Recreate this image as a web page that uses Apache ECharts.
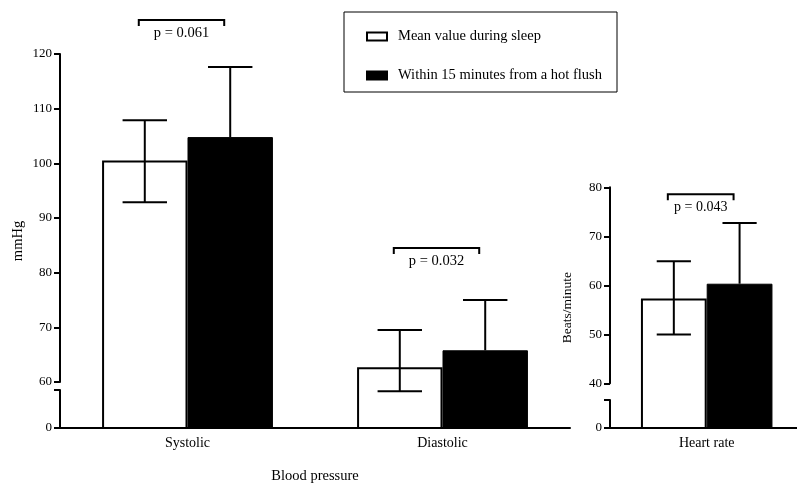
<!DOCTYPE html>
<html><head><meta charset="utf-8">
<script src="https://cdn.jsdelivr.net/npm/echarts@6/dist/echarts.min.js"></script>
<style>html,body{margin:0;padding:0;background:#fff}#c{width:797px;height:485px}</style>
</head><body><div id="c"></div>
<script>
// ---- data ----
const bpCategories = ['Systolic', 'Diastolic'];
const hrCategories = ['Heart rate'];
const seriesNames = ['Mean value during sleep', 'Within 15 minutes from a hot flush'];
const bpSleepMean = [100.5, 62.7];
const bpSleepLow  = [92.9, 58.3];
const bpSleepHigh = [107.9, 69.5];
const bpFlushMean = [104.8, 65.8];
const bpFlushHigh = [117.6, 75.0];
const hrSleepMean = [57.3];
const hrSleepLow  = [49.9];
const hrSleepHigh = [64.9];
const hrFlushMean = [60.3];
const hrFlushHigh = [72.7];
const bpTicks = [60, 70, 80, 90, 100, 110, 120];
const hrTicks = [40, 50, 60, 70, 80];
const bpPValues = ['p = 0.061', 'p = 0.032'];
const bpBracketY = [126.2, 84.5];
const hrPValues = ['p = 0.043'];
const hrBracketY = [78.6];

// ---- layout ----
const FONT = 'Liberation Serif';
const BP_GAP = 0.33, HR_GAP = 0.32;
const bpPxPerUnit = 328 / 60;   // upper segment 60..120 over 328px
const hrPxPerUnit = 196 / 40;   // upper segment 40..80 over 196px
const bpMainMin = 60 - 46 / bpPxPerUnit;
const hrMainMin = 40 - 45 / hrPxPerUnit;
const bpLowMax = 38 / bpPxPerUnit;
const hrLowMax = 28 / hrPxPerUnit;

function errRender(gap) {
  return function (params, api) {
    const cat = api.value(0), mean = api.value(1), low = api.value(2), high = api.value(3), side = api.value(4);
    const band = api.size([1, 0])[0];
    const bw = band * (1 - gap) / 2;
    const c = api.coord([cat, mean]);
    const x = c[0] + side * bw / 2;
    const yTop = api.coord([cat, high])[1];
    const yLow = api.coord([cat, low])[1];
    const cap = bw * 0.52;
    const style = { stroke: '#000', lineWidth: 2, fill: null };
    const ch = [
      { type: 'line', shape: { x1: x, y1: yTop, x2: x, y2: yLow }, style },
      { type: 'line', shape: { x1: x - cap / 2, y1: yTop, x2: x + cap / 2, y2: yTop }, style }
    ];
    if (low < mean) ch.push({ type: 'line', shape: { x1: x - cap / 2, y1: yLow, x2: x + cap / 2, y2: yLow }, style });
    return { type: 'group', children: ch };
  };
}
function bracketRender(gap, labels, fs) {
  return function (params, api) {
    const cat = api.value(0), yv = api.value(1);
    const band = api.size([1, 0])[0];
    const bw = band * (1 - gap) / 2;
    const c = api.coord([cat, yv]);
    const xL = c[0] - bw / 2 - 6, xR = c[0] + bw / 2 - 6, y = c[1];
    return { type: 'group', children: [
      { type: 'polyline', shape: { points: [[xL, y + 6], [xL, y], [xR, y], [xR, y + 6]] },
        style: { stroke: '#000', lineWidth: 2, fill: null } },
      { type: 'text', x: (xL + xR) / 2, y: y + 13,
        style: { text: labels[params.dataIndex], fontFamily: FONT, fontSize: fs, fill: '#000',
                 align: 'center', verticalAlign: 'middle' } }
    ]};
  };
}

const axLine = { show: true, lineStyle: { color: '#000', width: 2 } };
const hidden = { show: false };
const g = (o) => Object.assign({ outerBoundsMode: 'none', containLabel: false }, o);

const option = {
  animation: false,
  backgroundColor: '#fff',
  textStyle: { fontFamily: FONT, color: '#000' },
  legend: {
    data: seriesNames, orient: 'vertical', left: 344, top: 12,
    padding: [17, 15, 9, 22], borderColor: '#000', borderWidth: 1,
    itemWidth: 20, itemHeight: 8, itemGap: 24, icon: 'rect', selectedMode: false,
    textStyle: { fontFamily: FONT, fontSize: 14.5, color: '#000', padding: [0, 0, 0, 6] }
  },
  grid: [
    g({ left: 60, top: 54, width: 510, height: 374 }),
    g({ left: 60, top: 54, width: 510, height: 328 }),
    g({ left: 60, top: 390, width: 510, height: 38 }),
    g({ left: 610, top: 187.3, width: 193.4, height: 240.7 }),
    g({ left: 610, top: 187.3, width: 193.4, height: 196 }),
    g({ left: 610, top: 400, width: 193.4, height: 28 })
  ],
  xAxis: [
    { type: 'category', gridIndex: 0, data: bpCategories, axisLine: axLine,
      axisTick: { alignWithLabel: true, length: 4, lineStyle: { color: '#000', width: 1.5 } },
      axisLabel: { fontFamily: FONT, fontSize: 14, color: '#000', margin: 8 },
      name: 'Blood pressure', nameLocation: 'middle', nameGap: 41,
      nameTextStyle: { fontFamily: FONT, fontSize: 14.5, color: '#000' } },
    { type: 'category', gridIndex: 1, data: bpCategories, show: false },
    { type: 'category', gridIndex: 2, data: bpCategories, show: false },
    { type: 'category', gridIndex: 3, data: hrCategories, axisLine: axLine,
      axisTick: { alignWithLabel: true, length: 4, lineStyle: { color: '#000', width: 1.5 } },
      axisLabel: { fontFamily: FONT, fontSize: 14, color: '#000', margin: 8 } },
    { type: 'category', gridIndex: 4, data: hrCategories, show: false },
    { type: 'category', gridIndex: 5, data: hrCategories, show: false }
  ],
  yAxis: [
    { type: 'value', gridIndex: 0, min: bpMainMin, max: 120, axisLine: hidden, axisTick: hidden,
      axisLabel: hidden, splitLine: hidden, name: 'mmHg', nameLocation: 'middle', nameGap: 34,
      nameTextStyle: { fontFamily: FONT, fontSize: 14.5, color: '#000' } },
    { type: 'value', gridIndex: 1, min: 60, max: 120, interval: 10, axisLine: axLine, splitLine: hidden,
      axisTick: { show: true, length: 6, lineStyle: { color: '#000', width: 2 }, customValues: bpTicks },
      axisLabel: { fontFamily: FONT, fontSize: 13, color: '#000', margin: 8, customValues: bpTicks } },
    { type: 'value', gridIndex: 2, min: 0, max: bpLowMax, axisLine: axLine, splitLine: hidden,
      axisTick: { show: true, length: 6, lineStyle: { color: '#000', width: 2 }, customValues: [0, bpLowMax] },
      axisLabel: { fontFamily: FONT, fontSize: 13, color: '#000', margin: 8, customValues: [0],
                   formatter: v => (v === 0 ? '0' : '') } },
    { type: 'value', gridIndex: 3, min: hrMainMin, max: 80, axisLine: hidden, axisTick: hidden,
      axisLabel: hidden, splitLine: hidden, name: 'Beats/minute', nameLocation: 'middle', nameGap: 36,
      nameTextStyle: { fontFamily: FONT, fontSize: 13.5, color: '#000' } },
    { type: 'value', gridIndex: 4, min: 40, max: 80, interval: 10, axisLine: axLine, splitLine: hidden,
      axisTick: { show: true, length: 6, lineStyle: { color: '#000', width: 2 }, customValues: hrTicks },
      axisLabel: { fontFamily: FONT, fontSize: 13, color: '#000', margin: 8, customValues: hrTicks } },
    { type: 'value', gridIndex: 5, min: 0, max: hrLowMax, axisLine: axLine, splitLine: hidden,
      axisTick: { show: true, length: 6, lineStyle: { color: '#000', width: 2 }, customValues: [0, hrLowMax] },
      axisLabel: { fontFamily: FONT, fontSize: 13, color: '#000', margin: 8, customValues: [0],
                   formatter: v => (v === 0 ? '0' : '') } }
  ],
  series: [
    { type: 'bar', name: seriesNames[0], xAxisIndex: 0, yAxisIndex: 0, data: bpSleepMean,
      barGap: '0%', barCategoryGap: (BP_GAP * 100) + '%', z: 2,
      itemStyle: { color: '#fff', borderColor: '#000', borderWidth: 2 } },
    { type: 'bar', name: seriesNames[1], xAxisIndex: 0, yAxisIndex: 0, data: bpFlushMean,
      barGap: '0%', barCategoryGap: (BP_GAP * 100) + '%', z: 2,
      itemStyle: { color: '#000', borderColor: '#000', borderWidth: 1 } },
    { type: 'bar', name: seriesNames[0], xAxisIndex: 3, yAxisIndex: 3, data: hrSleepMean,
      barGap: '0%', barCategoryGap: (HR_GAP * 100) + '%', z: 2,
      itemStyle: { color: '#fff', borderColor: '#000', borderWidth: 2 } },
    { type: 'bar', name: seriesNames[1], xAxisIndex: 3, yAxisIndex: 3, data: hrFlushMean,
      barGap: '0%', barCategoryGap: (HR_GAP * 100) + '%', z: 2,
      itemStyle: { color: '#000', borderColor: '#000', borderWidth: 1 } },
    { type: 'custom', xAxisIndex: 0, yAxisIndex: 0, z: 5, renderItem: errRender(BP_GAP),
      encode: { x: 0, y: 1 },
      data: bpCategories.flatMap((c, i) => [
        [i, bpSleepMean[i], bpSleepLow[i], bpSleepHigh[i], -1],
        [i, bpFlushMean[i], bpFlushMean[i], bpFlushHigh[i], 1]]) },
    { type: 'custom', xAxisIndex: 3, yAxisIndex: 3, z: 5, renderItem: errRender(HR_GAP),
      encode: { x: 0, y: 1 },
      data: hrCategories.flatMap((c, i) => [
        [i, hrSleepMean[i], hrSleepLow[i], hrSleepHigh[i], -1],
        [i, hrFlushMean[i], hrFlushMean[i], hrFlushHigh[i], 1]]) },
    { type: 'custom', xAxisIndex: 0, yAxisIndex: 0, z: 5, clip: false,
      renderItem: bracketRender(BP_GAP, bpPValues, 14.5), encode: { x: 0, y: 1 },
      data: bpCategories.map((c, i) => [i, bpBracketY[i]]) },
    { type: 'custom', xAxisIndex: 3, yAxisIndex: 3, z: 5, clip: false,
      renderItem: bracketRender(HR_GAP, hrPValues, 14), encode: { x: 0, y: 1 },
      data: hrCategories.map((c, i) => [i, hrBracketY[i]]) }
  ]
};
const chart = echarts.init(document.getElementById('c'), null, { renderer: 'canvas' });
chart.setOption(option);
</script></body></html>
